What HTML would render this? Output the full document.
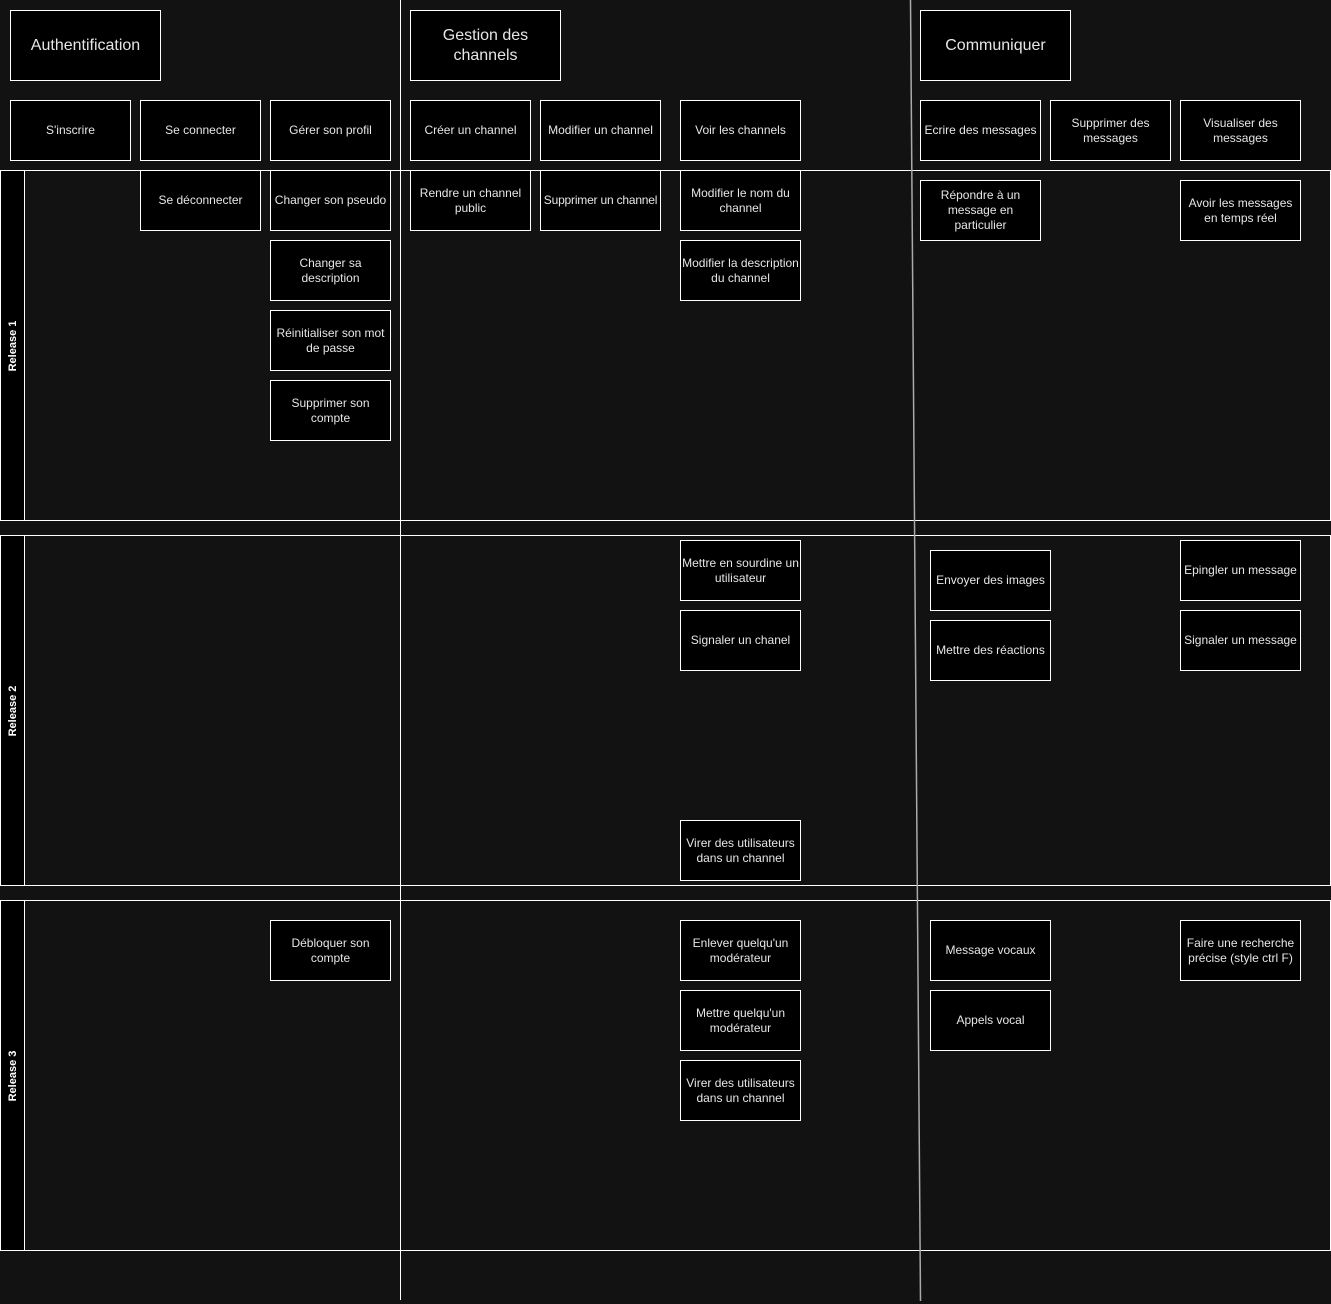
<!DOCTYPE html>
<html><head><meta charset="utf-8"><style>
html,body{margin:0;padding:0;}
body{width:1331px;height:1304px;background:#121212;position:relative;overflow:hidden;font-family:"Liberation Sans",Arial,sans-serif;}
.b{position:absolute;box-sizing:border-box;background:#000;border:1px solid #fff;color:#e6e6e6;font-size:12px;display:flex;align-items:center;justify-content:center;text-align:center;line-height:15px;padding:0 1px;}
.h{font-size:16px;line-height:20px;}
.lane{position:absolute;left:0;width:1331px;box-sizing:border-box;border:1px solid #fff;}
.lh{position:absolute;left:0;top:0;bottom:0;width:23px;background:#000;border-right:1px solid #fff;}
.lh span{position:absolute;left:50%;top:50%;transform:translate(-50%,-50%) rotate(-90deg);color:#fff;font-weight:bold;font-size:11px;white-space:nowrap;}
</style></head><body>
<div class="lane" style="top:170px;height:351px;"><div class="lh"><span>Release 1</span></div></div>
<div class="lane" style="top:535px;height:351px;"><div class="lh"><span>Release 2</span></div></div>
<div class="lane" style="top:900px;height:351px;"><div class="lh"><span>Release 3</span></div></div>
<svg style="position:absolute;left:0;top:0" width="1331" height="1304">
<line x1="400.5" y1="0" x2="400.5" y2="1300" stroke="#fff" stroke-width="1"/>
<line x1="910.5" y1="0" x2="920.5" y2="1301" stroke="#aaa" stroke-width="1.5"/>
</svg>
<div class="b h" style="left:10px;top:10px;width:151px;height:71px;">Authentification</div>
<div class="b h" style="left:410px;top:10px;width:151px;height:71px;">Gestion des<br>channels</div>
<div class="b h" style="left:920px;top:10px;width:151px;height:71px;">Communiquer</div>

<div class="b" style="left:10px;top:100px;width:121px;height:61px;">S'inscrire</div>
<div class="b" style="left:140px;top:100px;width:121px;height:61px;">Se connecter</div>
<div class="b" style="left:270px;top:100px;width:121px;height:61px;">Gérer son profil</div>
<div class="b" style="left:410px;top:100px;width:121px;height:61px;">Créer un channel</div>
<div class="b" style="left:540px;top:100px;width:121px;height:61px;">Modifier un channel</div>
<div class="b" style="left:680px;top:100px;width:121px;height:61px;">Voir les channels</div>
<div class="b" style="left:920px;top:100px;width:121px;height:61px;">Ecrire des messages</div>
<div class="b" style="left:1050px;top:100px;width:121px;height:61px;">Supprimer des<br>messages</div>
<div class="b" style="left:1180px;top:100px;width:121px;height:61px;">Visualiser des<br>messages</div>

<div class="b" style="left:140px;top:170px;width:121px;height:61px;">Se déconnecter</div>
<div class="b" style="left:270px;top:170px;width:121px;height:61px;">Changer son pseudo</div>
<div class="b" style="left:270px;top:240px;width:121px;height:61px;">Changer sa<br>description</div>
<div class="b" style="left:270px;top:310px;width:121px;height:61px;">Réinitialiser son mot<br>de passe</div>
<div class="b" style="left:270px;top:380px;width:121px;height:61px;">Supprimer son<br>compte</div>
<div class="b" style="left:410px;top:170px;width:121px;height:61px;">Rendre un channel<br>public</div>
<div class="b" style="left:540px;top:170px;width:121px;height:61px;white-space:nowrap;letter-spacing:-0.2px;">Supprimer un channel</div>
<div class="b" style="left:680px;top:170px;width:121px;height:61px;">Modifier le nom du<br>channel</div>
<div class="b" style="left:680px;top:240px;width:121px;height:61px;">Modifier la description<br>du channel</div>
<div class="b" style="left:920px;top:180px;width:121px;height:61px;">Répondre à un<br>message en<br>particulier</div>
<div class="b" style="left:1180px;top:180px;width:121px;height:61px;">Avoir les messages<br>en temps réel</div>

<div class="b" style="left:680px;top:540px;width:121px;height:61px;">Mettre en sourdine un<br>utilisateur</div>
<div class="b" style="left:680px;top:610px;width:121px;height:61px;">Signaler un chanel</div>
<div class="b" style="left:680px;top:820px;width:121px;height:61px;">Virer des utilisateurs<br>dans un channel</div>
<div class="b" style="left:930px;top:550px;width:121px;height:61px;">Envoyer des images</div>
<div class="b" style="left:930px;top:620px;width:121px;height:61px;">Mettre des réactions</div>
<div class="b" style="left:1180px;top:540px;width:121px;height:61px;">Epingler un message</div>
<div class="b" style="left:1180px;top:610px;width:121px;height:61px;">Signaler un message</div>

<div class="b" style="left:270px;top:920px;width:121px;height:61px;">Débloquer son<br>compte</div>
<div class="b" style="left:680px;top:920px;width:121px;height:61px;">Enlever quelqu'un<br>modérateur</div>
<div class="b" style="left:680px;top:990px;width:121px;height:61px;">Mettre quelqu'un<br>modérateur</div>
<div class="b" style="left:680px;top:1060px;width:121px;height:61px;">Virer des utilisateurs<br>dans un channel</div>
<div class="b" style="left:930px;top:920px;width:121px;height:61px;">Message vocaux</div>
<div class="b" style="left:930px;top:990px;width:121px;height:61px;">Appels vocal</div>
<div class="b" style="left:1180px;top:920px;width:121px;height:61px;">Faire une recherche<br>précise (style ctrl F)</div>
</body></html>
